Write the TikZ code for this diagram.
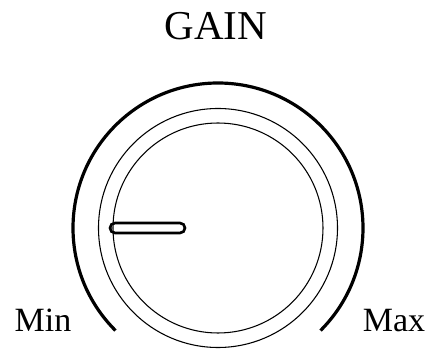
\documentclass[tikz,border=0pt]{standalone}
\usepackage{fontspec}
\setmainfont{Liberation Serif}
\usetikzlibrary{calc}
\begin{document}
\begin{tikzpicture}[x=0.75pt,y=-0.75pt,
  thinring/.style={draw=black,line width=0.8pt},
  scalearc/.style={draw=black,line width=2.4pt},
  pointer/.style={draw=black,line width=2pt,rounded corners=3.75pt},
  bigtext/.style={inner sep=0pt,anchor=base,font=\fontsize{30.75}{36}\selectfont},
  smalltext/.style={inner sep=0pt,anchor=base,font=\fontsize{25.5}{30}\selectfont}]
\useasboundingbox (0,0) rectangle (430,349);
\coordinate (c) at (218,228);
\node[bigtext] (gain) at (216,40) {GAIN};
\node[smalltext] (min) at (43,332) {Min};
\node[smalltext] (max) at (394,332) {Max};
\draw[scalearc] ($(c)+(135:145)$) arc[start angle=135,end angle=405,radius=145];
\draw[thinring] (c) circle[radius=119.5];
\draw[thinring] (c) circle[radius=105];
\draw[pointer] (110,223) rectangle (185,233);
\end{tikzpicture}
\end{document}
